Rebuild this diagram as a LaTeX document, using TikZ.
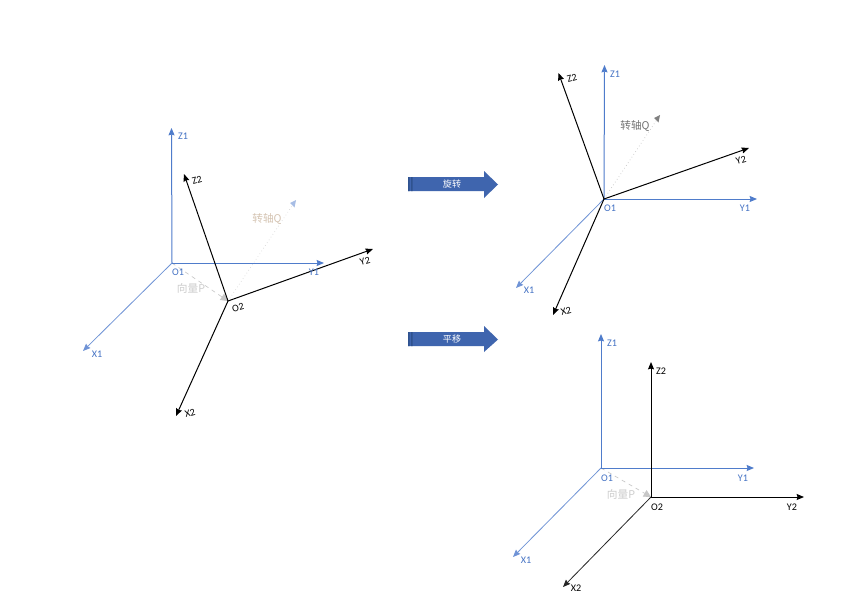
\documentclass[tikz,border=0pt]{standalone}
\usepackage{fontspec}
\setmainfont{Carlito}
\newfontfamily\cjk{Noto Sans CJK SC}
\usetikzlibrary{arrows.meta}
\definecolor{axblue}{HTML}{4F7CCB}
\definecolor{axlight}{HTML}{6F93D6}
\definecolor{labblue}{HTML}{4472C4}
\definecolor{blockblue}{HTML}{3F65AE}
\definecolor{blockdark}{HTML}{2F528F}
\tikzset{
  x=0.75pt,y=-0.75pt,
  tipb/.style={-{Stealth[length=5.5pt,width=4.5pt,inset=0.6pt]}},
  blueax/.style={tipb,draw=axblue,line width=0.75pt},
  lightax/.style={tipb,draw=axlight,line width=0.6pt},
  blackax/.style={tipb,draw=black,line width=0.75pt},
  thinblack/.style={tipb,draw=black!85,line width=0.6pt},
  blab/.style={text=labblue,font=\fontsize{7.6pt}{9pt}\selectfont,inner sep=0pt},
  klab/.style={text=black,font=\fontsize{7.6pt}{9pt}\selectfont,inner sep=0pt},
  veclab/.style={text=black!20,font=\fontsize{8pt}{9pt}\selectfont\cjk,inner sep=0pt},
  vec/.style={-{Stealth[length=5.5pt,width=5.5pt,inset=0pt]},draw=black!22,dashed,line width=0.5pt},
  qax/.style={dotted,line width=0.5pt},
  blocktext/.style={text=white,font=\fontsize{6.8pt}{8pt}\selectfont\cjk,inner sep=0pt},
}
\begin{document}
\begin{tikzpicture}
\useasboundingbox (0,0) rectangle (863,600);
\fill[white] (0,0) rectangle (863,600);

% left frame
\coordinate (a1) at (172,263);
\coordinate (a1z) at (171.5,128);
\coordinate (a1y) at (324,263);
\coordinate (a1x) at (83,351);
\coordinate (a2) at (228,301);
\coordinate (a2z) at (184,174);
\coordinate (a2y) at (373,249);
\coordinate (a2x) at (176,416);
\coordinate (aq) at (296,200);
\draw[qax,draw=black!15] (a2) -- (aq);
\fill[axblue!50] (aq) -- ++(-6,3) -- ++(4.5,4.5) -- cycle;
\draw[vec] (a1) -- (a2);
\draw[blueax] (a1) -- (a1z);
\draw[blueax] (a1) -- (a1y);
\draw[lightax] (a1) -- (a1x);
\draw[blackax] (a2) -- (a2z);
\draw[blackax] (a2) -- (a2y);
\draw[blackax] (a2) -- (a2x);
\node[blab] (l1) at (183,136) {Z1};
\node[klab,rotate=15] (l2) at (197,180) {Z2};
\node[blab] (l3) at (178,272) {O1};
\node[blab] (l4) at (314,272) {Y1};
\node[blab] (l5) at (97,354) {X1};
\node[klab,rotate=15] (l6) at (238,308) {O2};
\node[klab,rotate=15] (l7) at (365,261) {Y2};
\node[klab,rotate=15] (l8) at (190,413) {X2};
\node[font=\fontsize{8pt}{9pt}\selectfont\cjk,text=orange!45!black!30,inner sep=0pt] (l9) at (267,219) {转轴Q};
\node[veclab] (l10) at (191,288) {向量P};

% block arrows
\fill[blockblue] (408,177) -- (484,177) -- (484,171) -- (498,184.5) -- (484,198) -- (484,191) -- (408,191) -- cycle;
\fill[blockdark] (408,177) rectangle (409.5,191) (411,177) rectangle (412.5,191);
\node[blocktext] (t1) at (452,184) {旋转};
\fill[blockblue] (408,332) -- (484,332) -- (484,326) -- (498,339.5) -- (484,352) -- (484,346) -- (408,346) -- cycle;
\fill[blockdark] (408,332) rectangle (409.5,346) (411,332) rectangle (412.5,346);
\node[blocktext] (t2) at (452,339) {平移};

% top-right frame
\coordinate (b1) at (604,199);
\coordinate (b1z) at (604.5,65);
\coordinate (b1y) at (757,199);
\coordinate (b1x) at (516,288);
\coordinate (b1z2) at (558.5,73);
\coordinate (b1y2) at (749,148);
\coordinate (b1x2) at (553,315);
\coordinate (bq) at (660,115);
\draw[qax,draw=black!25] (b1) -- (bq);
\fill[black!50] (bq) -- ++(-6,3) -- ++(4.5,4.5) -- cycle;
\draw[blueax] (b1) -- (b1z);
\draw[blueax] (b1) -- (b1y);
\draw[lightax] (b1) -- (b1x);
\draw[blackax] (b1) -- (b1z2);
\draw[blackax] (b1) -- (b1y2);
\draw[blackax] (b1) -- (b1x2);
\node[blab] (m1) at (615,74) {Z1};
\node[klab,rotate=15] (m2) at (572,78) {Z2};
\node[blab] (m3) at (610,208) {O1};
\node[blab] (m4) at (745,208) {Y1};
\node[blab] (m5) at (529,290) {X1};
\node[klab,rotate=15] (m7) at (741,160) {Y2};
\node[klab,rotate=15] (m8) at (566,311) {X2};
\node[font=\fontsize{8pt}{9pt}\selectfont\cjk,text=black!55,inner sep=0pt] (m9) at (635,126) {转轴Q};

% bottom-right frame
\coordinate (c1) at (601,468);
\coordinate (c1z) at (601,334);
\coordinate (c1y) at (754,468);
\coordinate (c1x) at (513,557);
\coordinate (c2) at (651,497);
\coordinate (c2z) at (651,362);
\coordinate (c2y) at (804,497);
\coordinate (c2x) at (563,587);
\draw[vec] (c1) -- (c2);
\draw[blueax] (c1) -- (c1z);
\draw[blueax] (c1) -- (c1y);
\draw[lightax] (c1) -- (c1x);
\draw[blackax] (c2) -- (c2z);
\draw[blackax] (c2) -- (c2y);
\draw[thinblack] (c2) -- (c2x);
\node[blab] (n1) at (612,343) {Z1};
\node[klab] (n2) at (661,371) {Z2};
\node[blab] (n3) at (607,478) {O1};
\node[blab] (n4) at (743,478) {Y1};
\node[blab] (n5) at (526,560) {X1};
\node[klab] (n6) at (657,507) {O2};
\node[klab] (n7) at (792,507) {Y2};
\node[klab] (n8) at (576,588) {X2};
\node[veclab] (n9) at (621,494) {向量P};
\end{tikzpicture}
\end{document}
